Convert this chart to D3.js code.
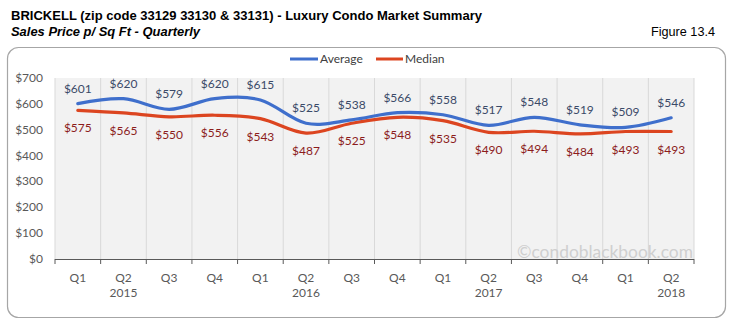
<!DOCTYPE html>
<html><head><meta charset="utf-8">
<script src="https://cdn.jsdelivr.net/npm/d3@7"></script>
<style>
body{margin:0;background:#fff;}
svg{display:block;}
</style></head>
<body>
<svg id="c" width="732" height="326"></svg>
<script>
const categories = ["Q1","Q2","Q3","Q4","Q1","Q2","Q3","Q4","Q1","Q2","Q3","Q4","Q1","Q2"];
const yearLabels = ["","2015","","","","2016","","","","2017","","","","2018"];
const averageValues = [601,620,579,620,615,525,538,566,558,517,548,519,509,546];
const medianValues = [575,565,550,556,543,487,525,548,535,490,494,484,493,493];
const yTicks = [0,100,200,300,400,500,600,700];

const svg = d3.select("#c");
const labelFont = "Lato, 'Open Sans', sans-serif";
const narrow = "'Liberation Sans Narrow','Arial Narrow','Liberation Sans',sans-serif";

// Titles
svg.append("text").attr("x",11).attr("y",20)
  .attr("textLength",471).attr("lengthAdjust","spacingAndGlyphs")
  .style("font-family",narrow)
  .style("font-weight","bold").style("font-size","13.5px").attr("fill","#000")
  .text("BRICKELL (zip code 33129 33130 & 33131) - Luxury Condo Market Summary");
svg.append("text").attr("x",11).attr("y",36)
  .attr("textLength",189).attr("lengthAdjust","spacingAndGlyphs")
  .style("font-family",narrow)
  .style("font-weight","bold").style("font-style","italic").style("font-size","13.5px").attr("fill","#000")
  .text("Sales Price p/ Sq Ft - Quarterly");
svg.append("text").attr("x",651).attr("y",36)
  .attr("textLength",64).attr("lengthAdjust","spacingAndGlyphs")
  .style("font-family",narrow)
  .style("font-size","13.5px").attr("fill","#000")
  .text("Figure 13.4");

// Outer frame
svg.append("rect").attr("x",7.5).attr("y",47.5).attr("width",718).attr("height",270)
  .attr("rx",11).attr("fill","#fff").attr("stroke","#a6a6a6").attr("stroke-width",1.2);

const x = d3.scaleBand().domain(d3.range(categories.length)).range([55,694]);
const y = d3.scaleLinear().domain([0,700]).range([259,78]);

// plot bg
svg.append("rect").attr("x",55).attr("y",y(700)).attr("width",694-55).attr("height",y(0)-y(700)).attr("fill","#f2f2f2");

// vertical gridlines at band boundaries
const bounds = d3.range(categories.length+1).map(i => 55 + i*x.step());
svg.append("g").selectAll("line").data(bounds).join("line")
  .attr("x1",d=>d).attr("x2",d=>d).attr("y1",y(700)).attr("y2",y(0))
  .attr("stroke","#d9d9d9").attr("stroke-width",1);

// watermark
svg.append("text").attr("x",693).attr("y",258).attr("text-anchor","end")
  .attr("textLength",176).attr("lengthAdjust","spacingAndGlyphs")
  .style("font-family",labelFont).style("font-size","18px").attr("fill","#cfcfcf")
  .text("\u00A9condoblackbook.com");

// y axis labels
svg.append("g").selectAll("text").data(yTicks).join("text")
  .attr("x",43).attr("y",d=>y(d)+4).attr("text-anchor","end")
  .style("font-family",labelFont).style("font-size","12px").attr("fill","#595959")
  .text(d=>"$"+d);

// x axis
svg.append("line").attr("x1",55).attr("x2",694).attr("y1",y(0)+0.5).attr("y2",y(0)+0.5)
  .attr("stroke","#595959").attr("stroke-width",1);
svg.append("g").selectAll("line").data(bounds).join("line")
  .attr("x1",d=>d).attr("x2",d=>d).attr("y1",y(0)).attr("y2",y(0)+5)
  .attr("stroke","#595959").attr("stroke-width",1);

svg.append("g").selectAll("text").data(categories).join("text")
  .attr("x",(d,i)=>x(i)+x.bandwidth()/2).attr("y",282).attr("text-anchor","middle")
  .style("font-family",labelFont).style("font-size","12px").attr("fill","#595959")
  .text(d=>d);
svg.append("g").selectAll("text").data(yearLabels).join("text")
  .attr("x",(d,i)=>x(i)+x.bandwidth()/2).attr("y",297).attr("text-anchor","middle")
  .style("font-family",labelFont).style("font-size","12px").attr("fill","#595959")
  .text(d=>d);

// lines
const cx = i => x(i)+x.bandwidth()/2;
const line = d3.line().x((d,i)=>cx(i)).y(d=>y(d)).curve(d3.curveCardinal.tension(0));
const blue = "#3f6fcc", red = "#dc4520";
svg.append("path").datum(medianValues).attr("d",line).attr("fill","none")
  .attr("stroke",red).attr("stroke-width",3.2).attr("stroke-linecap","round");
svg.append("path").datum(averageValues).attr("d",line).attr("fill","none")
  .attr("stroke",blue).attr("stroke-width",3.2).attr("stroke-linecap","round");

// data labels
svg.append("g").selectAll("text").data(averageValues).join("text")
  .attr("x",(d,i)=>cx(i)).attr("y",d=>y(d)-11).attr("text-anchor","middle")
  .style("font-family",labelFont).style("font-size","12px").attr("fill","#3b4a68")
  .text(d=>"$"+d);
svg.append("g").selectAll("text").data(medianValues).join("text")
  .attr("x",(d,i)=>cx(i)).attr("y",d=>y(d)+22).attr("text-anchor","middle")
  .style("font-family",labelFont).style("font-size","12px").attr("fill","#8c1c1c")
  .text(d=>"$"+d);

// legend
const lg = svg.append("g");
lg.append("line").attr("x1",290).attr("x2",318).attr("y1",59).attr("y2",59).attr("stroke",blue).attr("stroke-width",3);
lg.append("text").attr("x",320).attr("y",63).style("font-family",labelFont).style("font-size","12px").attr("fill","#404040").text("Average");
lg.append("line").attr("x1",376).attr("x2",403).attr("y1",59).attr("y2",59).attr("stroke",red).attr("stroke-width",3);
lg.append("text").attr("x",405).attr("y",63).style("font-family",labelFont).style("font-size","12px").attr("fill","#404040").text("Median");
</script>
</body></html>
